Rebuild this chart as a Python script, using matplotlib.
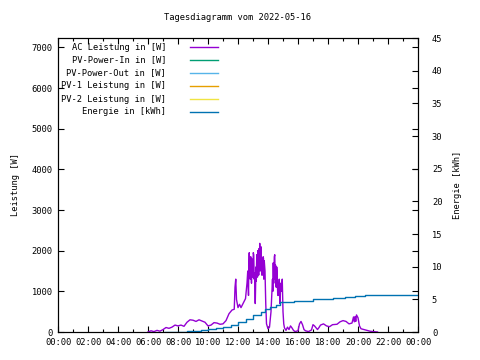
import matplotlib
matplotlib.use("Agg")
import matplotlib.pyplot as plt
import numpy as np
from matplotlib.ticker import MultipleLocator

plt.rcParams['font.family'] = ['DejaVu Sans Mono']

# AC Leistung [W] (hours of day, watts)
ac_t = [6.0, 6.2, 6.4, 6.6, 6.8, 7.0, 7.2, 7.4, 7.6, 7.8, 8.0, 8.2, 8.4, 8.6, 8.8,
        9.0, 9.2, 9.4, 9.6, 9.8, 10.0, 10.2, 10.4, 10.6, 10.8, 11.0, 11.2, 11.4,
        11.6, 11.75, 11.8, 11.85, 11.9, 12.0, 12.1, 12.2, 12.4, 12.5, 12.6, 12.65,
        12.7, 12.72, 12.75, 12.78, 12.8, 12.82, 12.85, 12.88, 12.9, 12.92, 12.95,
        12.98, 13.0, 13.02, 13.05, 13.08, 13.1, 13.15, 13.2, 13.22, 13.25, 13.28,
        13.3, 13.32, 13.35, 13.38, 13.4, 13.42, 13.45, 13.48, 13.5, 13.52, 13.55,
        13.58, 13.6, 13.62, 13.65, 13.68, 13.7, 13.72, 13.75, 13.8, 13.85, 13.9,
        14.0, 14.1, 14.2, 14.3, 14.32, 14.35, 14.38, 14.4, 14.42, 14.45, 14.48,
        14.5, 14.52, 14.55, 14.58, 14.6, 14.65, 14.7, 14.75, 14.8, 14.85, 14.9,
        14.95, 15.0, 15.05, 15.1, 15.2, 15.3, 15.4, 15.5, 15.6, 15.7, 15.8, 16.0,
        16.1, 16.2, 16.3, 16.4, 16.5, 16.7, 16.9, 17.0, 17.1, 17.3, 17.4, 17.5,
        17.7, 17.9, 18.1, 18.3, 18.6, 18.8, 19.0, 19.2, 19.4, 19.6, 19.7, 19.75,
        19.8, 19.85, 19.9, 20.0, 20.1, 20.2, 20.4, 20.6, 20.8, 21.0, 21.2, 21.3]
ac_w = [0, 30, 10, 40, 20, 60, 110, 90, 120, 170, 150, 170, 140, 240, 300,
        290, 260, 300, 270, 240, 150, 170, 230, 220, 190, 200, 280, 450,
        540, 560, 1100, 1300, 800, 600, 680, 600, 750, 820, 1200, 1500,
        900, 1600, 1950, 1400, 1700, 1300, 1850, 1500, 1200, 1800, 1750,
        1350, 1550, 1950, 1900, 1300, 1450, 700, 1600, 1250, 1900, 1500,
        1350, 2000, 1800, 1400, 2050, 1600, 2180, 1500, 1700, 2100, 1950,
        1400, 1800, 1600, 1400, 1850, 1800, 1300, 1750, 1500, 700, 200,
        80, 120, 500, 1300, 1000, 1700, 1200, 1500, 1850, 1900, 1300,
        1650, 1200, 1100, 1600, 1500, 900, 900, 1300, 700, 1200, 1000,
        1300, 500, 200, 100, 40, 120, 60, 150, 100, 40, 10, 30,
        200, 260, 180, 60, 30, 10, 50, 180, 150, 60, 110, 170,
        200, 150, 130, 180, 190, 250, 280, 260, 200, 220, 370, 250,
        380, 260, 420, 350, 150, 80, 60, 40, 20, 10, 5, 0]

# Energie [kWh]
en_t = [7.1, 8.0, 8.6, 9.0, 9.5, 10.0, 10.5, 11.0, 11.5, 12.0, 12.5, 13.0, 13.5,
        13.8, 14.1, 14.5, 14.8, 15.7, 17.0, 18.35, 19.1, 19.8, 20.45, 24.0]
en_kwh = [0.0, 0.05, 0.1, 0.2, 0.3, 0.45, 0.6, 0.8, 1.05, 1.5, 2.0, 2.6, 3.1,
          3.5, 3.9, 4.2, 4.6, 4.8, 5.0, 5.2, 5.35, 5.5, 5.65, 5.65]

labels = ['AC Leistung in [W]', 'PV-Power-In in [W]', 'PV-Power-Out in [W]',
          'PV-1 Leistung in [W]', 'PV-2 Leistung in [W]', 'Energie in [kWh]']
colors = ['#9400d3', '#009e73', '#56b4e9', '#e69f00', '#f0e442', '#0072b2']
xlabels = ['00:00', '02:00', '04:00', '06:00', '08:00', '10:00', '12:00',
           '14:00', '16:00', '18:00', '20:00', '22:00', '00:00']

fs = 6.3
fig = plt.figure(figsize=(4.8, 3.6), dpi=100)
ax = fig.add_axes([58/480, 28/360, 360/480, 294/360])
ax2 = ax.twinx()

ax.plot(ac_t, ac_w, color=colors[0], lw=1.0)
for c in colors[1:5]:
    ax.plot([], [], color=c, lw=1.0)
ax2.step(en_t, en_kwh, where='post', color=colors[5], lw=1.0)

ax.set_xlim(0, 24)
ax.set_ylim(0, 7230)
ax2.set_ylim(0, 45)
ax.set_xticks(np.arange(0, 25, 2))
ax.set_xticklabels(xlabels, fontsize=fs)
ax.xaxis.set_minor_locator(MultipleLocator(1))
ax.yaxis.set_major_locator(MultipleLocator(1000))
ax2.yaxis.set_major_locator(MultipleLocator(5))
for a in (ax, ax2):
    a.tick_params(which='both', direction='in', width=0.8, labelsize=fs)
    a.tick_params(which='major', length=4)
    a.tick_params(which='minor', length=2.5)
    for s in a.spines.values():
        s.set_linewidth(0.8)
ax.tick_params(top=True, right=True, which='both', pad=4)
ax2.tick_params(pad=10)

ax.set_ylabel('Leistung [W]', fontsize=fs, labelpad=8)
ax2.set_ylabel('Energie [kWh]', fontsize=fs, labelpad=8)
fig.text(238/480, 1 - 18/360, 'Tagesdiagramm vom 2022-05-16', fontsize=fs,
         ha='center', va='center')

# key box in the top left corner
for i, (lab, c) in enumerate(zip(labels, colors)):
    y = 1 - (47 + i * 13) / 360
    fig.text(166/480, y, lab, fontsize=fs, ha='right', va='center')
    fig.add_artist(plt.Line2D([190/480, 218/480], [y, y], color=c, lw=1.0))

fig.savefig('out.png', dpi=100)
